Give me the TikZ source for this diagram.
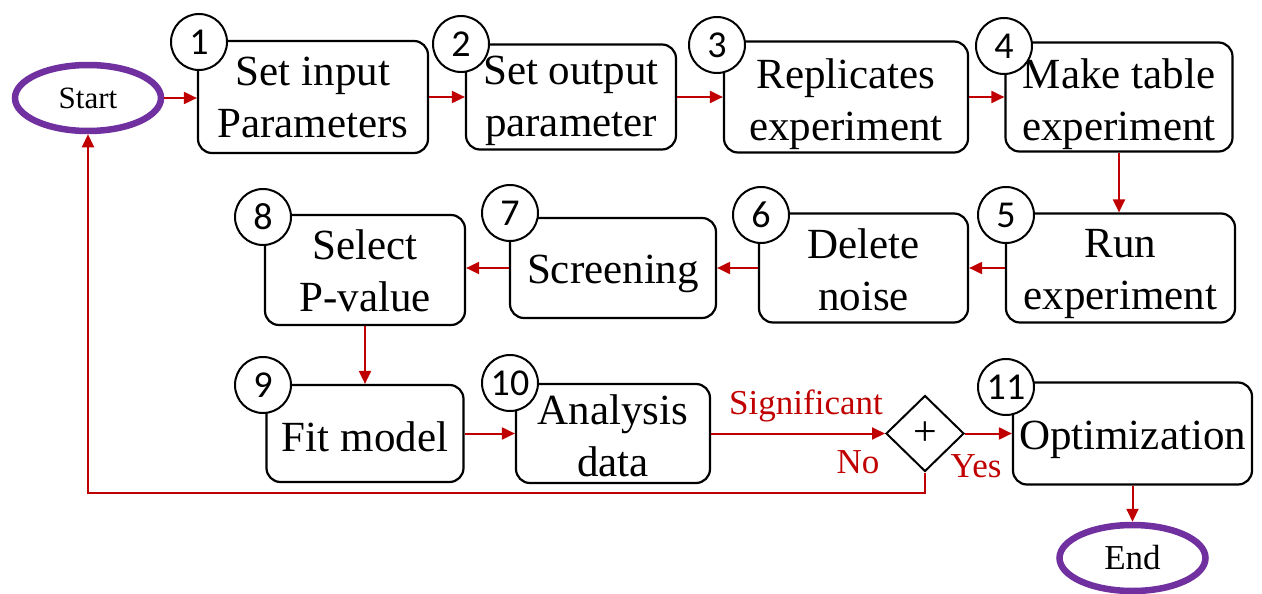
\documentclass[tikz,border=0pt]{standalone}
\usepackage{fontspec}
\setmainfont{Liberation Serif}
\newfontfamily\numfont{Carlito}
\usetikzlibrary{arrows.meta,shapes.geometric}
\definecolor{flowred}{HTML}{C00000}
\definecolor{termpurple}{HTML}{7030A0}
\begin{document}
\begin{tikzpicture}[x=1pt,y=-1pt,
  stepbox/.style={draw=black, line width=2.2pt, rounded corners=14pt, fill=white,
    inner sep=0pt},
  boxtext/.style={align=center, inner sep=0pt, font=\fontsize{43}{52}\selectfont},
  steptext/.style n args={2}{label={[boxtext, yshift=#1]center:#2}},
  numcirc/.style={draw=black, line width=2pt, circle, fill=white, minimum size=56pt,
    inner sep=0pt, font=\numfont\fontsize{38}{38}\selectfont},
  term/.style={draw=termpurple, line width=6.5pt, ellipse, fill=white,
    minimum width=146pt, minimum height=66pt, inner sep=0pt},
  flow/.style={draw=flowred, line width=2pt, -{Triangle[length=13pt,width=12pt]}},
  lbl/.style={text=flowred, font=\fontsize{35}{35}\selectfont, inner sep=0pt},
  gate/.style={draw=black, line width=2pt, diamond, fill=white, minimum width=78pt,
    minimum height=76pt, inner sep=0pt, font=\fontsize{42}{42}\selectfont}
]
\useasboundingbox (0,0) rectangle (1262,594);

% terminals
\node[term, font=\fontsize{31}{31}\selectfont] (start) at (88,98) {Start};
\node[term, font=\fontsize{35}{35}\selectfont] (end) at (1132.5,558) {End};

% first row
\node[stepbox, minimum width=230pt, minimum height=112pt,
  steptext={0pt}{Set input\\Parameters}] (b1) at (313,97) {};
\node[stepbox, minimum width=210pt, minimum height=105pt,
  steptext={-4pt}{Set output\\parameter}] (b2) at (571,97) {};
\node[stepbox, minimum width=244pt, minimum height=111pt,
  steptext={-7pt}{Replicates\\experiment}] (b3) at (846,97) {};
\node[stepbox, minimum width=227pt, minimum height=109pt,
  steptext={-7pt}{Make table\\experiment}] (b4) at (1119,97) {};

% second row
\node[stepbox, minimum width=229pt, minimum height=109pt,
  steptext={-6pt}{Run\\experiment}] (b5) at (1120.5,268) {};
\node[stepbox, minimum width=209pt, minimum height=109pt,
  steptext={-2pt}{Delete\\noise}] (b6) at (863.5,268) {};
\node[stepbox, minimum width=206pt, minimum height=100pt,
  steptext={-6pt}{Screening}] (b7) at (613,268) {};
\node[stepbox, minimum width=200pt, minimum height=110pt,
  steptext={-1pt}{Select\\P-value}] (b8) at (365,270) {};

% third row
\node[stepbox, minimum width=197pt, minimum height=97pt,
  steptext={-3pt}{Fit model}] (b9) at (365,433.5) {};
\node[stepbox, minimum width=194pt, minimum height=99pt,
  steptext={-2pt}{Analysis\\data}] (b10) at (613,433.5) {};
\node[gate] (dm) at (925,433.5) {+};
\node[stepbox, minimum width=239pt, minimum height=102pt,
  steptext={-6pt}{Optimization}] (b11) at (1132.5,433.5) {};

% step numbers
\node[numcirc] (n1) at (199,42) {1};
\node[numcirc] (n2) at (461,44) {2};
\node[numcirc] (n3) at (717,45) {3};
\node[numcirc] (n4) at (1004,46) {4};
\node[numcirc] (n5) at (1006,215) {5};
\node[numcirc] (n6) at (761,215) {6};
\node[numcirc] (n7) at (510,213) {7};
\node[numcirc] (n8) at (263,217) {8};
\node[numcirc] (n9) at (263,385) {9};
\node[numcirc] (n10) at (510,383) {10};
\node[numcirc] (n11) at (1006,387) {11};

% connectors
\draw[flow] (start.east) -- (start.east -| b1.west);
\draw[flow] (b1.east) -- (b2.west);
\draw[flow] (b2.east) -- (b3.west);
\draw[flow] (b3.east) -- (b4.west);
\draw[flow] (b4.south) -- (b4.south |- b5.north);
\draw[flow] (b5.west) -- (b6.east);
\draw[flow] (b6.west) -- (b7.east);
\draw[flow] (b7.west) -- (b7.west -| b8.east);
\draw[flow] (b8.south) -- (b9.north);
\draw[flow] (b9.east) -- (b10.west);
\draw[flow] (b10.east) -- (dm.west);
\draw[flow] (dm.east) -- (b11.west);
\draw[flow] (b11.south) -- (end.north);
\coordinate (loopy) at (0,493);
\draw[flow] (dm.south) |- (start.south |- loopy) -- (start.south);

% branch labels
\node[lbl] (sig) at (806,406) {Significant};
\node[lbl] (no) at (858,462) {No};
\node[lbl] (yes) at (976,466) {Yes};
\end{tikzpicture}
\end{document}
